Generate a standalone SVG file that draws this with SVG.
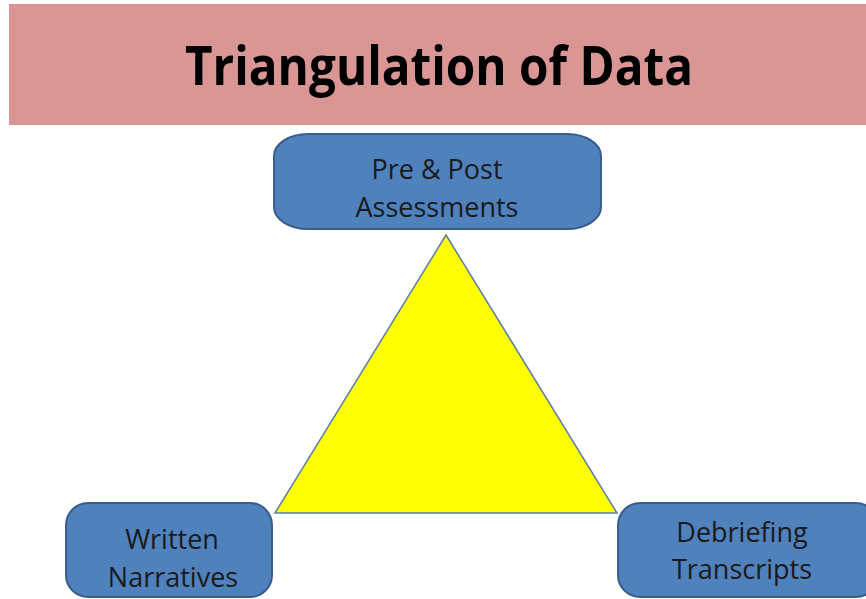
<svg xmlns="http://www.w3.org/2000/svg" width="866" height="599" viewBox="0 0 866 599">
<style>
.box{fill:#4f81bd;stroke:#385d8a;stroke-width:2}
.lbl{font-family:"Open Sans","Liberation Sans",sans-serif;font-size:27px;fill:#1a1a1a;text-anchor:middle}
.title{font-family:"Open Sans","Liberation Sans",sans-serif;font-size:54px;font-weight:bold;fill:#000;text-anchor:middle}
</style>
<rect width="866" height="599" fill="#ffffff"/>
<g id="title">
<rect x="9" y="4" width="857" height="121" fill="#d99694"/>
<text class="title" x="439" y="85" textLength="508" lengthAdjust="spacingAndGlyphs">Triangulation of Data</text>
</g>
<g id="connectors">
<polygon points="446,235 275,513 617,513" fill="#ffff00" stroke="#5a7fa8" stroke-width="1.5"/>
</g>
<g id="node-pre-post">
<rect class="box" x="274" y="134" width="327" height="95" rx="34" ry="22"/>
<text class="lbl" x="437" y="179">Pre &amp; Post</text>
<text class="lbl" x="437" y="217">Assessments</text>
</g>
<g id="node-written">
<rect class="box" x="66" y="503" width="206" height="94" rx="22" ry="22"/>
<text class="lbl" x="172" y="549">Written</text>
<text class="lbl" x="173" y="587">Narratives</text>
</g>
<g id="node-debriefing">
<rect class="box" x="618" y="503" width="260" height="94" rx="22" ry="22"/>
<text class="lbl" x="742" y="542">Debriefing</text>
<text class="lbl" x="742" y="579">Transcripts</text>
</g>
</svg>
